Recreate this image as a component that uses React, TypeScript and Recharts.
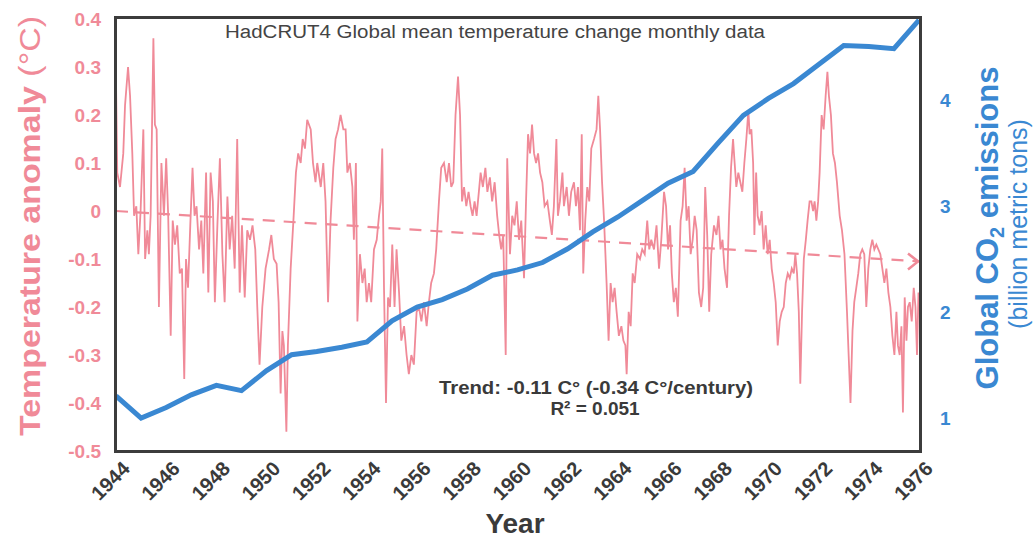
import { ComposedChart, Line, XAxis, YAxis } from "recharts";

// x axis: years, step 2
const yearTicks = [1944, 1946, 1948, 1950, 1952, 1954, 1956, 1958, 1960, 1962, 1964, 1966, 1968, 1970, 1972, 1974, 1976];
const tempTicks = [-0.5, -0.4, -0.3, -0.2, -0.1, 0, 0.1, 0.2, 0.3, 0.4];
const co2Ticks = [1, 2, 3, 4];

// HadCRUT4 monthly anomaly (decimal year)
const tempTime = [
  1944.0, 1944.05, 1944.16, 1944.29, 1944.36, 1944.48, 1944.56, 1944.65, 1944.72, 1944.81, 1944.89, 1944.98,
  1945.09, 1945.16, 1945.25, 1945.31, 1945.38, 1945.49, 1945.55, 1945.62, 1945.71, 1945.81, 1945.91,
  1946.0, 1946.08, 1946.18, 1946.26, 1946.35, 1946.44, 1946.54, 1946.63, 1946.72, 1946.79, 1946.87, 1946.96,
  1947.05, 1947.13, 1947.21, 1947.31, 1947.4, 1947.48, 1947.59, 1947.68, 1947.77, 1947.86, 1947.94,
  1948.04, 1948.14, 1948.24, 1948.33, 1948.44, 1948.53, 1948.63, 1948.73, 1948.83, 1948.93,
  1949.02, 1949.13, 1949.23, 1949.34, 1949.44, 1949.55, 1949.63, 1949.72, 1949.83, 1949.96,
  1950.1, 1950.19, 1950.29, 1950.4, 1950.48, 1950.56, 1950.63, 1950.69, 1950.79, 1950.85, 1950.96,
  1951.07, 1951.17, 1951.26, 1951.36, 1951.44, 1951.53, 1951.62, 1951.76, 1951.85, 1951.95,
  1952.02, 1952.16, 1952.26, 1952.35, 1952.45, 1952.55, 1952.66, 1952.75, 1952.85, 1952.95,
  1953.06, 1953.15, 1953.22, 1953.32, 1953.42, 1953.48, 1953.56, 1953.62, 1953.72, 1953.82, 1953.91, 1953.99,
  1954.08, 1954.17, 1954.28, 1954.39, 1954.48, 1954.55, 1954.61, 1954.68, 1954.76, 1954.84, 1954.92,
  1955.01, 1955.1, 1955.18, 1955.28, 1955.37, 1955.48, 1955.58, 1955.67, 1955.77, 1955.87, 1955.98,
  1956.07, 1956.17, 1956.27, 1956.38, 1956.47, 1956.56, 1956.67, 1956.76, 1956.87, 1956.96,
  1957.07, 1957.18, 1957.27, 1957.36, 1957.44, 1957.53, 1957.63, 1957.71, 1957.79, 1957.87, 1957.96,
  1958.05, 1958.13, 1958.21, 1958.29, 1958.37, 1958.46, 1958.53, 1958.62, 1958.72, 1958.8, 1958.9, 1958.99,
  1959.09, 1959.19, 1959.27, 1959.35, 1959.43, 1959.53, 1959.59, 1959.7, 1959.79, 1959.88, 1959.97,
  1960.06, 1960.15, 1960.26, 1960.34, 1960.42, 1960.5, 1960.58, 1960.66, 1960.74, 1960.82, 1960.9, 1960.99,
  1961.08, 1961.19, 1961.29, 1961.37, 1961.45, 1961.55, 1961.61, 1961.69, 1961.79, 1961.85, 1961.96,
  1962.05, 1962.14, 1962.25, 1962.33, 1962.41, 1962.49, 1962.56, 1962.62, 1962.7, 1962.78, 1962.86, 1962.94,
  1963.05, 1963.15, 1963.22, 1963.29, 1963.37, 1963.45, 1963.55, 1963.63, 1963.71, 1963.79, 1963.87, 1963.95,
  1964.04, 1964.14, 1964.22, 1964.3, 1964.35, 1964.43, 1964.51, 1964.59, 1964.67, 1964.77, 1964.88, 1964.97,
  1965.07, 1965.17, 1965.25, 1965.33, 1965.44, 1965.54, 1965.64, 1965.73, 1965.84, 1965.92,
  1966.0, 1966.08, 1966.15, 1966.23, 1966.31, 1966.39, 1966.5, 1966.58, 1966.66, 1966.74, 1966.82, 1966.9, 1966.98,
  1967.06, 1967.14, 1967.23, 1967.32, 1967.4, 1967.48, 1967.56, 1967.64, 1967.72, 1967.83, 1967.93,
  1968.01, 1968.09, 1968.17, 1968.25, 1968.35, 1968.43, 1968.51, 1968.59, 1968.64, 1968.72, 1968.8, 1968.88, 1968.96,
  1969.04, 1969.12, 1969.2, 1969.25, 1969.32, 1969.39, 1969.44, 1969.51, 1969.57, 1969.65, 1969.73, 1969.81, 1969.89, 1969.97,
  1970.05, 1970.13, 1970.21, 1970.29, 1970.37, 1970.45, 1970.53, 1970.61, 1970.69, 1970.77, 1970.85, 1970.93,
  1971.01, 1971.07, 1971.14, 1971.21, 1971.27, 1971.34, 1971.41, 1971.49, 1971.56, 1971.64, 1971.71, 1971.78, 1971.84, 1971.91, 1971.98,
  1972.04, 1972.12, 1972.2, 1972.28, 1972.35, 1972.41, 1972.49, 1972.57, 1972.65, 1972.73, 1972.84, 1972.93,
  1973.03, 1973.13, 1973.27, 1973.35, 1973.42, 1973.5, 1973.58, 1973.66, 1973.74, 1973.82, 1973.9, 1973.98,
  1974.06, 1974.14, 1974.22, 1974.3, 1974.38, 1974.46, 1974.54, 1974.62, 1974.7, 1974.78, 1974.86, 1974.94,
  1975.02, 1975.1, 1975.16, 1975.23, 1975.3, 1975.36, 1975.43, 1975.5, 1975.56, 1975.63, 1975.71, 1975.79, 1975.86, 1975.92, 1975.98,
];
const tempAnomaly = [
  0.27, 0.08, 0.05, 0.12, 0.22, 0.3, 0.24, 0.12, -0.01, 0.01, -0.09, 0.0,
  0.17, -0.1, -0.04, -0.09, -0.01, 0.36, 0.18, 0.17, -0.2, 0.1, -0.01,
  0.11, -0.01, -0.26, -0.02, -0.07, -0.03, -0.13, -0.12, -0.35, -0.1, -0.16, -0.03,
  0.09, -0.01, 0.01, -0.08, -0.02, -0.13, 0.08, -0.17, 0.08, 0.02, -0.19,
  -0.03, 0.11, -0.09, -0.19, 0.03, -0.08, -0.01, -0.12, 0.15, -0.17,
  -0.03, -0.18, -0.04, -0.06, -0.03, -0.08, -0.2, -0.32, -0.2, -0.12,
  -0.08, -0.05, -0.1, -0.11, -0.19, -0.38, -0.25, -0.28, -0.46, -0.28, -0.12,
  -0.02, 0.08, 0.12, 0.1, 0.15, 0.13, 0.19, 0.17, 0.1, 0.06,
  0.1, 0.05, 0.1, 0.02, -0.19, -0.02, 0.09, 0.15, 0.17, 0.2,
  0.17, 0.17, 0.08, 0.1, 0.05, -0.06, 0.1, -0.23, -0.09, -0.15, -0.12, -0.19,
  -0.15, -0.19, -0.08, -0.06, -0.01, 0.02, 0.13, -0.16, -0.4, -0.18, -0.2,
  -0.07, -0.2, -0.08, -0.17, -0.27, -0.24, -0.3, -0.34, -0.3, -0.32, -0.21,
  -0.2, -0.23, -0.19, -0.24, -0.19, -0.15, -0.13, -0.08, 0.02, 0.09,
  0.1, 0.06, 0.1, 0.05, 0.06, 0.2, 0.28, 0.2, 0.02, 0.05, 0.01,
  0.04, 0.01, -0.01, 0.02, -0.01, 0.04, 0.08, 0.05, 0.09, 0.04, 0.07, 0.02,
  0.06, -0.01, -0.05, -0.08, -0.05, -0.3, 0.11, -0.09, -0.01, -0.03, 0.02,
  -0.06, -0.02, -0.14, 0.02, 0.16, 0.12, 0.18, 0.12, 0.1, 0.12, 0.08, 0.06,
  0.01, 0.02, -0.02, -0.05, 0.01, 0.15, -0.01, 0.02, 0.08, 0.01, 0.05,
  -0.01, 0.04, 0.06, 0.01, 0.05, -0.04, 0.16, -0.13, -0.02, 0.05, 0.02, 0.13,
  0.15, 0.17, 0.24, 0.17, 0.06, -0.02, -0.15, -0.27, -0.15, -0.19, -0.16, -0.21,
  -0.26, -0.24, -0.27, -0.28, -0.34, -0.21, -0.24, -0.13, -0.15, -0.09, -0.1, -0.08,
  -0.09, -0.02, -0.08, -0.06, -0.08, -0.03, -0.12, -0.06, 0.04, 0.01,
  -0.08, -0.03, -0.13, -0.19, -0.16, -0.22, -0.02, 0.01, 0.09, -0.02, 0.01, -0.09, -0.06,
  -0.01, -0.04, -0.17, -0.2, -0.16, 0.05, -0.05, -0.21, -0.09, -0.03, -0.05,
  -0.01, -0.08, -0.06, -0.12, -0.16, -0.01, 0.09, 0.15, 0.11, 0.05, 0.08, 0.06, 0.04,
  0.1, 0.15, 0.21, 0.16, 0.17, 0.1, -0.05, 0.08, -0.01, -0.03, 0.0, -0.08, -0.03, -0.09,
  -0.06, -0.12, -0.15, -0.19, -0.28, -0.23, -0.21, -0.2, -0.15, -0.13, -0.14, -0.12,
  -0.13, -0.09, -0.13, -0.21, -0.36, -0.21, -0.1, -0.06, -0.02, 0.02, 0.02, 0.0, 0.02, -0.02, 0.02,
  0.08, 0.2, 0.17, 0.24, 0.29, 0.24, 0.2, 0.12, 0.1, 0.06, -0.01, -0.04,
  -0.09, -0.21, -0.4, -0.25, -0.19, -0.16, -0.13, -0.09, -0.08, -0.09, -0.2, -0.12,
  -0.08, -0.06, -0.08, -0.07, -0.08, -0.09, -0.12, -0.15, -0.12, -0.17, -0.2, -0.26,
  -0.3, -0.21, -0.28, -0.3, -0.24, -0.42, -0.18, -0.27, -0.2, -0.19, -0.23, -0.16, -0.2, -0.3, -0.17,
];

// global CO2 emissions, billion metric tons
const co2Year = [1944, 1945, 1946, 1947, 1948, 1949, 1950, 1951, 1952, 1953, 1954, 1955, 1956, 1957, 1958, 1959, 1960, 1961, 1962, 1963, 1964, 1965, 1966, 1967, 1968, 1969, 1970, 1971, 1972, 1973, 1974, 1975, 1976];
const co2Emissions = [1.21, 1.0, 1.1, 1.22, 1.31, 1.26, 1.45, 1.6, 1.63, 1.67, 1.72, 1.92, 2.05, 2.12, 2.22, 2.35, 2.4, 2.47, 2.6, 2.76, 2.9, 3.06, 3.22, 3.33, 3.6, 3.86, 4.02, 4.16, 4.34, 4.52, 4.51, 4.49, 4.76];

// linear trend
const trendYear = [1944, 1976];
const trendValue = [0, -0.105];

const tempData = tempTime.map((x, i) => ({ x, y: tempAnomaly[i] }));
const co2Data = co2Year.map((x, i) => ({ x, y: co2Emissions[i] }));
const trendData = trendYear.map((x, i) => ({ x, y: trendValue[i] }));

const PINK = "#f08a98";
const BLUE = "#3a88d2";
const DARK = "#3a3a3a";
const FONT = "'Liberation Sans', Arial, sans-serif";

function YearTick({ x, y, payload }: any) {
  return (
    <text
      transform={`translate(${x + 15},${y + 17}) rotate(-45)`}
      textAnchor="end"
      fontSize={20}
      fontWeight={700}
      fontFamily={FONT}
      fill={DARK}
    >
      {payload.value}
    </text>
  );
}

function ArrowEnd(props: any) {
  const { cx, cy, index } = props;
  if (index !== trendData.length - 1) return <g key={index} />;
  return (
    <path
      key={index}
      d={`M${cx - 11},${cy - 8} L${cx - 1},${cy} L${cx - 11},${cy + 8}`}
      stroke={PINK}
      strokeWidth={2.5}
      fill="none"
    />
  );
}

export default function App() {
  return (
    <div style={{ position: "absolute", left: 0, top: 0, width: 1034, height: 540, background: "#fff", fontFamily: FONT }}>
      <ComposedChart width={1034} height={540} margin={{ top: 19, right: 0, bottom: 0, left: 0 }}>
        <XAxis
          dataKey="x"
          type="number"
          domain={[1944, 1976]}
          ticks={yearTicks}
          allowDataOverflow
          axisLine={false}
          tickLine={false}
          tickSize={0}
          height={89}
          tick={<YearTick />}
        />
        <YAxis
          yAxisId="left"
          orientation="left"
          domain={[-0.5, 0.4]}
          ticks={tempTicks}
          allowDataOverflow
          width={116}
          axisLine={false}
          tickLine={false}
          tickSize={0}
          tickMargin={15}
          tickFormatter={(v: number) => (v === 0 ? "0" : v.toFixed(1))}
          tick={{ fill: PINK, fontSize: 19, fontWeight: 700, fontFamily: FONT }}
        />
        <YAxis
          yAxisId="right"
          orientation="right"
          domain={[0.69, 4.77]}
          ticks={co2Ticks}
          allowDataOverflow
          width={115}
          axisLine={false}
          tickLine={false}
          tickSize={0}
          tickMargin={21}
          tick={{ fill: BLUE, fontSize: 19, fontWeight: 700, fontFamily: FONT }}
        />
        <Line
          yAxisId="left"
          data={trendData}
          dataKey="y"
          stroke={PINK}
          strokeWidth={2.2}
          strokeDasharray="12 9"
          dot={<ArrowEnd />}
          isAnimationActive={false}
        />
        <Line
          yAxisId="left"
          data={tempData}
          dataKey="y"
          stroke={PINK}
          strokeWidth={1.8}
          dot={false}
          isAnimationActive={false}
        />
        <Line
          yAxisId="right"
          data={co2Data}
          dataKey="y"
          stroke={BLUE}
          strokeWidth={5}
          dot={false}
          isAnimationActive={false}
        />
      </ComposedChart>

      <div
        style={{
          position: "absolute",
          left: 114,
          top: 16,
          width: 808,
          height: 437,
          border: "3px solid #3c3c3c",
          boxSizing: "border-box",
          pointerEvents: "none",
        }}
      />

      <svg width={1034} height={540} style={{ position: "absolute", left: 0, top: 0, pointerEvents: "none" }} fontFamily={FONT}>
        <text x={495} y={38} textAnchor="middle" fontSize={18} fill="#444" textLength={540} lengthAdjust="spacingAndGlyphs">
          HadCRUT4 Global mean temperature change monthly data
        </text>
        <text x={596} y={394} textAnchor="middle" fontSize={19} fontWeight={700} fill={DARK} textLength={314} lengthAdjust="spacingAndGlyphs">
          Trend: -0.11 C° (-0.34 C°/century)
        </text>
        <text x={595} y={415} textAnchor="middle" fontSize={19} fontWeight={700} fill={DARK}>
          R² = 0.051
        </text>
        <text transform="translate(40,226) rotate(-90)" textAnchor="middle" fontSize={30} fill={PINK} textLength={420} lengthAdjust="spacingAndGlyphs">
          <tspan fontWeight={700}>Temperature anomaly </tspan>
          <tspan>(°C)</tspan>
        </text>
        <text transform="translate(998,228) rotate(-90)" textAnchor="middle" fontSize={31} fontWeight={700} fill={BLUE}>
          Global CO<tspan dy={6} fontSize={20}>2</tspan>
          <tspan dy={-6}> emissions</tspan>
        </text>
        <text transform="translate(1027,224) rotate(-90)" textAnchor="middle" fontSize={25} fill={BLUE}>
          (billion metric tons)
        </text>
        <text x={515} y={533} textAnchor="middle" fontSize={28} fontWeight={700} fill={DARK}>
          Year
        </text>
      </svg>
    </div>
  );
}
